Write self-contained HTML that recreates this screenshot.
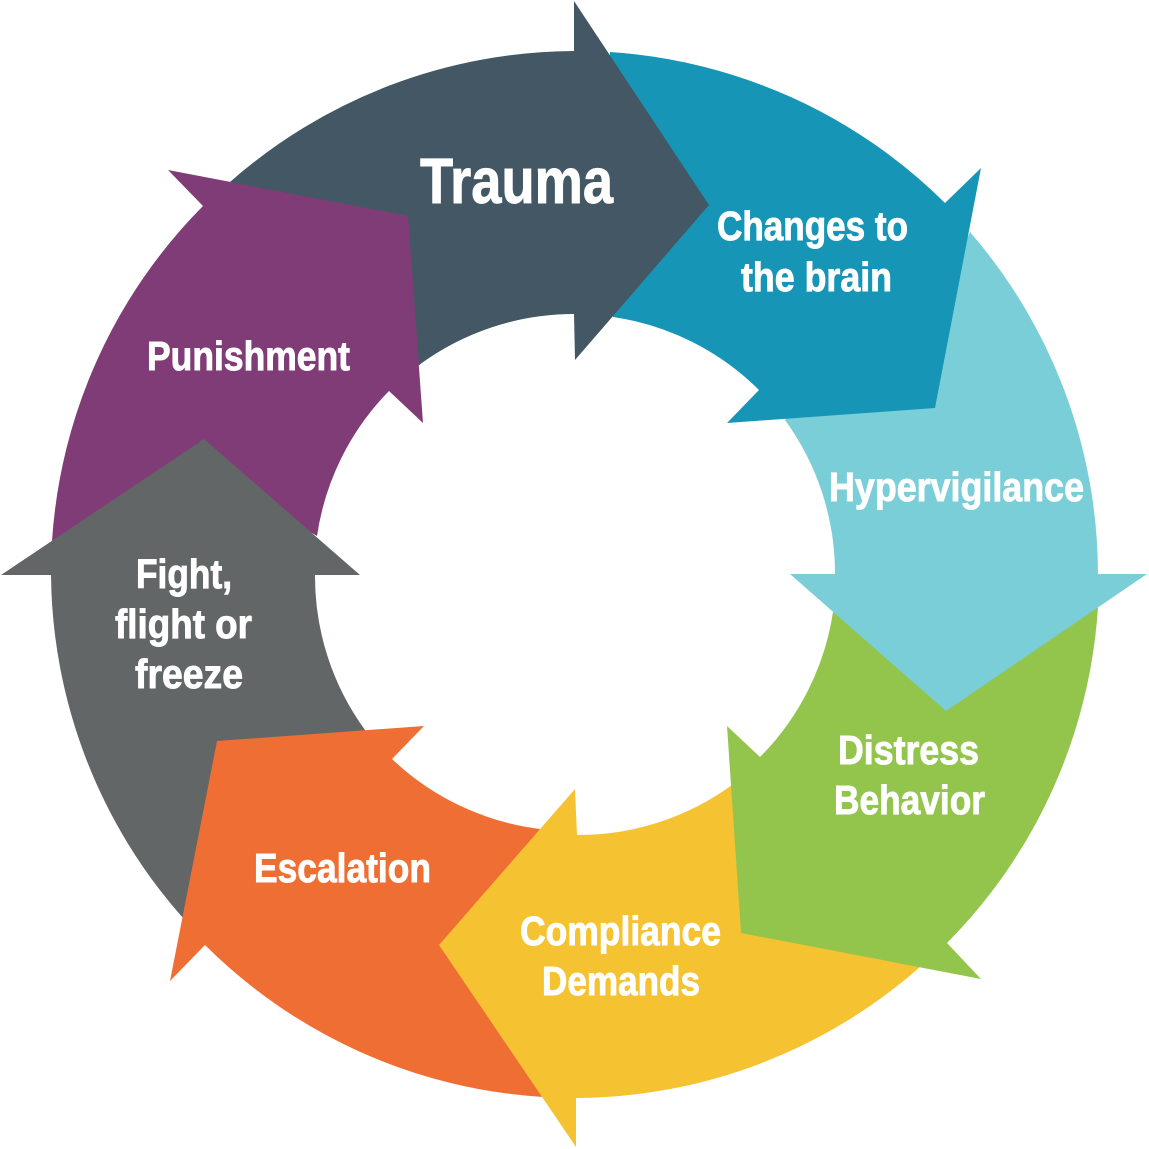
<!DOCTYPE html>
<html>
<head>
<meta charset="utf-8">
<style>
html,body{margin:0;padding:0;background:#fff;}
svg{display:block;}
text{font-family:"Liberation Sans",Arial,sans-serif;font-weight:bold;fill:#fff;stroke:#fff;stroke-width:.9px;font-size:41px;}
</style>
</head>
<body>
<svg width="1149" height="1149" viewBox="0 0 1149 1149" xmlns="http://www.w3.org/2000/svg">
<path fill="#803c76" d="M52 541 A524 524 0 0 1 203 206 L168 170 L408 216 L423 423 L389 391 A261 261 0 0 0 317 536 L204 470 Z"/>
<path fill="none" stroke="#803c76" stroke-width="2" d="M232 183 L408 216 L419 365"/>
<path fill="#636667" d="M183 918 A524 524 0 0 1 51 575 L1 575 L204 439 L360 575 L315 575 A261 261 0 0 0 365 730 L370 745 L235 760 Z"/>
<path fill="#ef6e33" d="M543 1097 A524 524 0 0 1 205 945 L170 981 L217 741 L424 726 L392 759 A261 261 0 0 0 540 829 L470 945 Z"/>
<path fill="#f5c231" d="M920 967 A524 524 0 0 1 576 1098 L576 1147 L439 945 L575 789 L577 835 A261 261 0 0 0 732 785 L760 920 Z"/>
<path fill="#93c54c" d="M1098 607 A524 524 0 0 1 947 943 L981 979 L741 933 L727 726 L760 757 A261 261 0 0 0 833 612 L946 680 Z"/>
<path fill="#79ced8" d="M970 232 A524 524 0 0 1 1098 574 L1147 574 L946 711 L790 574 L835 574 A261 261 0 0 0 785 420 L800 400 L900 380 Z"/>
<path fill="#1795b6" d="M610 52 A524 524 0 0 1 945 203 L981 168 L935 408 L727 423 L759 390 A261 261 0 0 0 613 317 L600 250 Z"/>
<path fill="#435864" d="M230 182 A524 524 0 0 1 574 51 L574 1 L709 205 L575 360 L574 314 A261 261 0 0 0 419 365 L408 216 Z"/>

<text x="420" y="203" style="font-size:64px" textLength="193" lengthAdjust="spacingAndGlyphs">Trauma</text>
<text x="717" y="240" textLength="191" lengthAdjust="spacingAndGlyphs">Changes to</text>
<text x="741" y="291" textLength="151" lengthAdjust="spacingAndGlyphs">the brain</text>
<text x="829" y="501" textLength="255" lengthAdjust="spacingAndGlyphs">Hypervigilance</text>
<text x="838" y="764" textLength="141" lengthAdjust="spacingAndGlyphs">Distress</text>
<text x="834" y="814" textLength="151" lengthAdjust="spacingAndGlyphs">Behavior</text>
<text x="520" y="945" textLength="201" lengthAdjust="spacingAndGlyphs">Compliance</text>
<text x="542" y="995" textLength="158" lengthAdjust="spacingAndGlyphs">Demands</text>
<text x="254" y="882" textLength="177" lengthAdjust="spacingAndGlyphs">Escalation</text>
<text x="136" y="588" textLength="96" lengthAdjust="spacingAndGlyphs">Fight,</text>
<text x="115" y="638" textLength="137" lengthAdjust="spacingAndGlyphs">flight or</text>
<text x="135" y="688" textLength="108" lengthAdjust="spacingAndGlyphs">freeze</text>
<text x="147" y="370" textLength="203" lengthAdjust="spacingAndGlyphs">Punishment</text>
</svg>
</body>
</html>
